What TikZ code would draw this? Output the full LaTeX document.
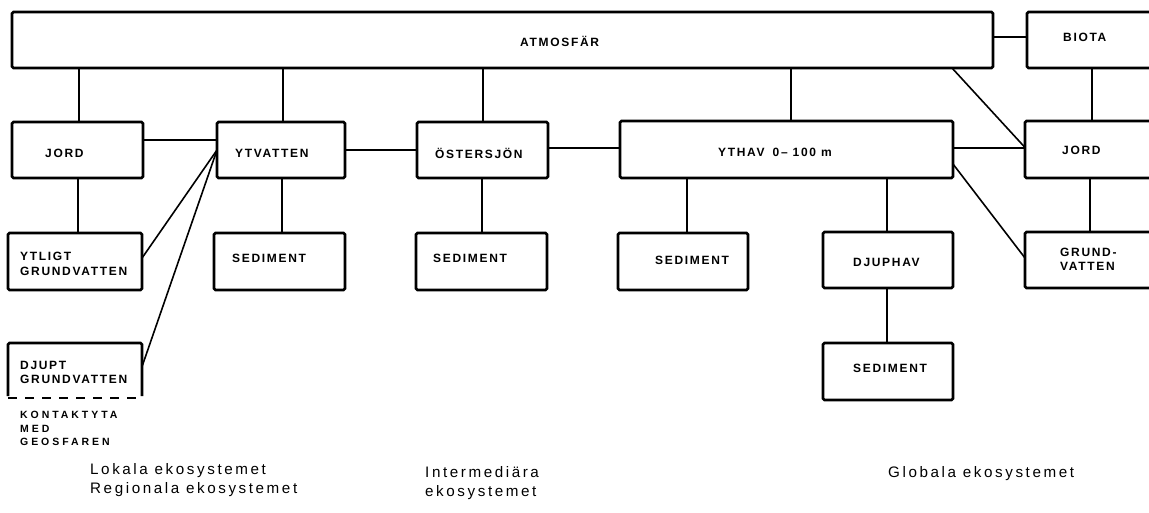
\documentclass[tikz,border=0pt]{standalone}
\usepackage{fontspec}
\setmainfont{Liberation Sans}
\newfontfamily\boxfont[LetterSpace=14]{Liberation Sans}
\newfontfamily\smallfont[LetterSpace=28]{Liberation Sans}
\newfontfamily\capfont[LetterSpace=17]{Liberation Sans}
\usetikzlibrary{calc}
\begin{document}
\begin{tikzpicture}[x=1pt,y=-1pt,
  box/.style={draw,line width=2.8pt,rounded corners=1.5pt,inner sep=0pt,outer sep=0pt},
  conn/.style={line width=1.6pt},
  lbl/.style={anchor=west,inner sep=0pt,font=\boxfont\bfseries\fontsize{12}{14.5}\selectfont,align=left},
  note/.style={anchor=north west,inner sep=0pt,font=\smallfont\bfseries\fontsize{10.5}{13.5}\selectfont,align=left},
  captext/.style={anchor=west,inner sep=0pt,font=\capfont\fontsize{15.2}{19.5}\selectfont,align=left}]
\path[use as bounding box] (0,0) rectangle (1149,513);
\clip (0,0) rectangle (1149,513);
\fill[white] (0,0) rectangle (1149,513);

% boxes
\node[box,minimum width=981,minimum height=56] (atmos) at (502.5,40) {};
\node[box,minimum width=148,minimum height=56] (biota) at (1101,40) {};
\node[box,minimum width=131,minimum height=56] (jordL) at (77.5,150) {};
\node[box,minimum width=128,minimum height=56] (ytv) at (281,150) {};
\node[box,minimum width=131,minimum height=56] (ost) at (482.5,150) {};
\node[box,minimum width=333,minimum height=57] (ythav) at (786.5,149.5) {};
\node[box,minimum width=150,minimum height=57] (jordR) at (1100,149.5) {};
\node[box,minimum width=134,minimum height=57] (ytligt) at (75,261.5) {};
\node[box,minimum width=131,minimum height=57] (sedYtv) at (279.5,261.5) {};
\node[box,minimum width=131,minimum height=57] (sedOst) at (481.5,261.5) {};
\node[box,minimum width=130,minimum height=57] (sedYthav) at (683,261.5) {};
\node[box,minimum width=130,minimum height=56] (djuphav) at (888,260) {};
\node[box,minimum width=130,minimum height=57] (sedDj) at (888,371.5) {};
\node[box,minimum width=150,minimum height=56] (grund) at (1100,260) {};
\node[minimum width=134,minimum height=55,inner sep=0pt,outer sep=0pt] (djupt) at (75,370.5) {};
\draw[line width=2.8pt,rounded corners=1.5pt] ([yshift=2pt]djupt.south west) -- (djupt.north west) -- (djupt.north east) -- ([yshift=2pt]djupt.south east);
\draw[line width=2pt,dash pattern=on 9pt off 8pt] (djupt.south west) -- (djupt.south east);

% labels
\node[lbl] at (520,41) {ATMOSFÄR};
\node[lbl] at (1063,37) {BIOTA};
\node[lbl] at (45,153) {JORD};
\node[lbl] at (235,153) {YTVATTEN};
\node[lbl] at (435,153) {ÖSTERSJÖN};
\node[lbl] at (718,152) {YTHAV\hspace{8pt}0– 100 m};
\node[lbl] at (1062,150) {JORD};
\node[lbl] at (20,264) {YTLIGT\\GRUNDVATTEN};
\node[lbl] at (232,258) {SEDIMENT};
\node[lbl] at (433,258) {SEDIMENT};
\node[lbl] at (655,260) {SEDIMENT};
\node[lbl] at (853,262) {DJUPHAV};
\node[lbl] at (853,368) {SEDIMENT};
\node[lbl] at (1060,259.5) {GRUND-\\VATTEN};
\node[lbl] at (20,372.5) {DJUPT\\GRUNDVATTEN};

% connectors
\draw[conn] (jordL.north) ++(1.5,0) coordinate (c1) -- (c1 |- atmos.south);
\draw[conn] ([xshift=2pt]ytv.north) -- ([xshift=2pt]ytv.north |- atmos.south);
\draw[conn] ([xshift=0.5pt]ost.north) -- ([xshift=0.5pt]ost.north |- atmos.south);
\draw[conn] ([xshift=4.5pt]ythav.north) -- ([xshift=4.5pt]ythav.north |- atmos.south);
\draw[conn] (atmos.east) ++(0,-3) coordinate (c2) -- (c2 -| biota.west);
\draw[conn] ($(atmos.south east)+(-41,0)$) -- ([yshift=2pt]jordR.west);
\draw[conn] ([xshift=-9pt]biota.south) -- ([xshift=-9pt]biota.south |- jordR.north);
\draw[conn] ([yshift=10pt]jordL.east) -- ([yshift=10pt]ytv.west);
\draw[conn] (ytv.east) -- (ytv.east -| ost.west);
\draw[conn] ([yshift=2pt]ost.east) -- ([yshift=2pt]ost.east -| ythav.west);
\draw[conn] ([yshift=1.5pt]ythav.east) -- ([yshift=1.5pt]ythav.east -| jordR.west);
\draw[conn] ([xshift=3pt]ytligt.north) -- ([xshift=3pt]ytligt.north |- jordL.south);
\draw[conn] ([xshift=2.5pt]sedYtv.north) -- ([xshift=2.5pt]sedYtv.north |- ytv.south);
\draw[conn] ([xshift=0.5pt]sedOst.north) -- ([xshift=0.5pt]sedOst.north |- ost.south);
\draw[conn] ([xshift=4pt]sedYthav.north) -- ([xshift=4pt]sedYthav.north |- ythav.south);
\draw[conn] ([xshift=-1pt]djuphav.north) -- ([xshift=-1pt]djuphav.north |- ythav.south);
\draw[conn] ([xshift=-1pt]djuphav.south) -- ([xshift=-1pt]sedDj.north);
\draw[conn] ([xshift=-10pt]jordR.south) -- ([xshift=-10pt]grund.north);
\draw[conn] ($(ythav.south east)+(0,-14)$) -- ([yshift=2pt]grund.west);
\draw[conn] (ytv.west) -- ($(ytligt.north east)!0.44!(ytligt.south east)$);
\draw[conn] (ytv.west) -- ($(djupt.north east)!0.43!(djupt.south east)$);

% texts
\node[note] at (20,411) {KONTAKTYTA\\MED\\GEOSFAREN};
\node[captext] at (90,480) {Lokala ekosystemet\\Regionala ekosystemet};
\node[captext] at (425,483) {Intermediära\\ekosystemet};
\node[captext] at (888,474) {Globala ekosystemet};
\end{tikzpicture}
\end{document}
